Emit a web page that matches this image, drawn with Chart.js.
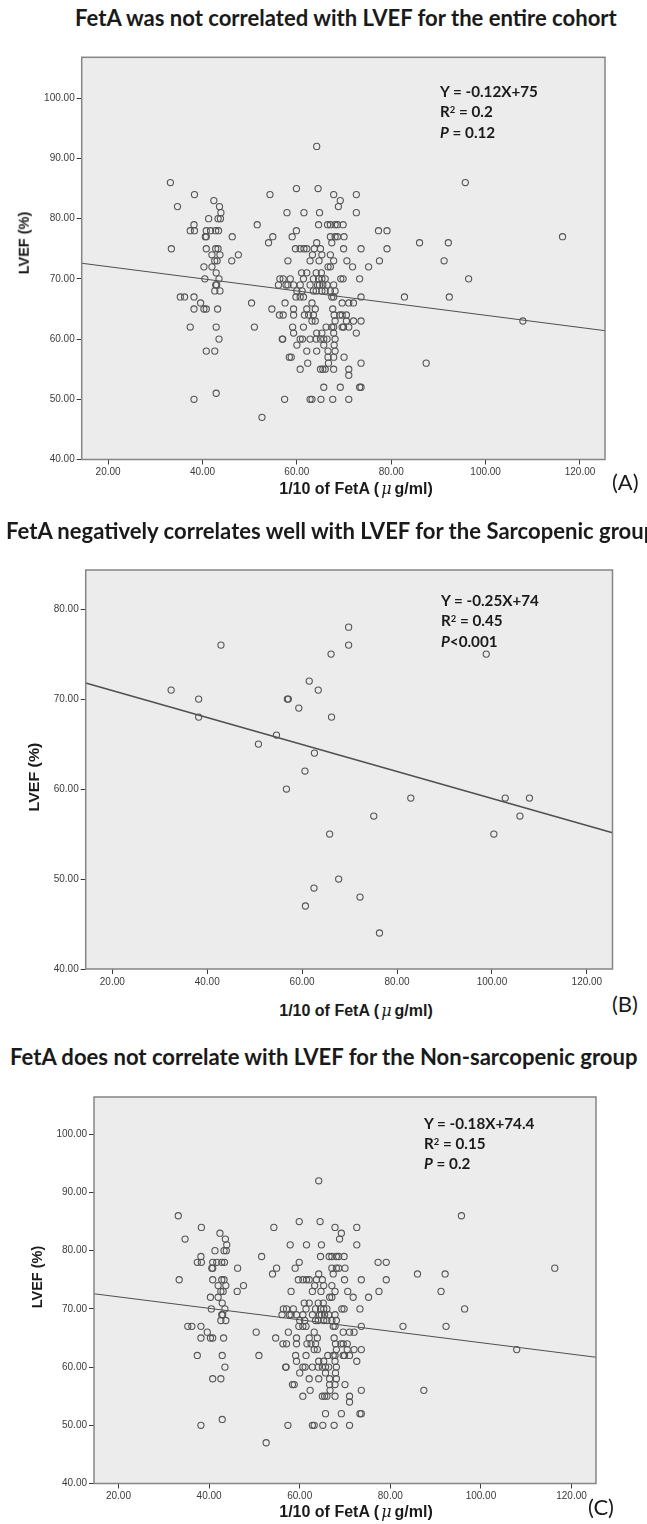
<!DOCTYPE html>
<html>
<head>
<meta charset="utf-8">
<script src="https://cdn.jsdelivr.net/npm/chart.js@4.4.1/dist/chart.umd.min.js"></script>
<style>
  body { margin: 0; background: #fff; }
  #page { position: relative; width: 647px; height: 1524px; overflow: hidden; }
  canvas { position: absolute; left: 0; }
  .t { position: absolute; white-space: nowrap; line-height: 1; color: #1a1a1a; }
  .head { font-family: Lato, "Open Sans", sans-serif; font-weight: bold; font-size: 18px; transform: translateY(-50%); }
  .eq { font-family: Lato, sans-serif; font-weight: bold; font-size: 14.5px; transform: translateY(-50%); }
  .eq sup { font-size: 0.62em; vertical-align: 0.45em; line-height: 0; }
  .axt { font-family: "Liberation Sans", Arial, sans-serif; font-weight: bold; font-size: 16px; transform: translate(-50%, -50%); }
  .mu { font-family: "DejaVu Serif", serif; font-style: italic; font-weight: normal; padding: 0 3px 0 2px; }
  .ayt { font-family: "Liberation Sans", Arial, sans-serif; font-weight: bold; font-size: 14.5px; transform: translate(-50%, -50%) rotate(-90deg); }
  .tag { font-family: Lato, sans-serif; font-size: 22px; transform: translateY(-50%); }
</style>
</head>
<body>
<div id="page">
  <canvas id="chartA" width="647" height="480" style="top:40px"></canvas>
  <canvas id="chartB" width="647" height="440" style="top:550px"></canvas>
  <canvas id="chartC" width="647" height="444" style="top:1080px"></canvas>

  <div class="t head" id="titleA" style="left:75px;top:18px">FetA was not correlated with LVEF for the entire cohort</div>
  <div class="t head" style="left:6px;top:531px">FetA negatively correlates well with LVEF for the Sarcopenic group</div>
  <div class="t head" style="left:10px;top:1057px">FetA does not correlate with LVEF for the Non-sarcopenic group</div>

  <div class="t eq" id="eqA" style="left:440px;top:92px">Y = -0.12X+75</div>
  <div class="t eq" style="left:440px;top:112px">R<sup>2</sup> = 0.2</div>
  <div class="t eq" style="left:440px;top:133px"><i>P</i> = 0.12</div>

  <div class="t eq" style="left:441px;top:601px">Y = -0.25X+74</div>
  <div class="t eq" style="left:441px;top:621px">R<sup>2</sup> = 0.45</div>
  <div class="t eq" style="left:441px;top:642px"><i>P</i>&lt;0.001</div>

  <div class="t eq" style="left:424px;top:1124px">Y = -0.18X+74.4</div>
  <div class="t eq" style="left:424px;top:1144px">R<sup>2</sup> = 0.15</div>
  <div class="t eq" style="left:424px;top:1164px"><i>P</i> = 0.2</div>

  <div class="t axt" style="left:356px;top:489px">1/10 of FetA (<span class="mu">μ</span>g/ml)</div>
  <div class="t axt" style="left:356px;top:1011px">1/10 of FetA (<span class="mu">μ</span>g/ml)</div>
  <div class="t axt" style="left:356px;top:1512px">1/10 of FetA (<span class="mu">μ</span>g/ml)</div>

  <div class="t ayt" style="left:24px;top:243px">LVEF (%)</div>
  <div class="t ayt" style="left:34px;top:777px;transform:translate(-50%,-50%) scale(1,1.1) rotate(-90deg)">LVEF (%)</div>
  <div class="t ayt" style="left:37px;top:1277px">LVEF (%)</div>

  <div class="t tag" style="left:612px;top:482px">(A)</div>
  <div class="t tag" style="left:612px;top:1004px">(B)</div>
  <div class="t tag" style="left:588px;top:1507px">(C)</div>
</div>
<script>
// entire cohort (also plotted for the non-sarcopenic panel, the points are the same)
const cohortFetA = [
  64.2,
  33.2, 95.7,
  59.9, 64.5,
  38.3, 54.3, 67.8, 72.6,
  42.4, 69.2,
  34.7, 43.6, 68.8,
  43.9, 57.9, 61.5, 64.8, 72.6,
  41.3, 43.3, 43.8,
  38.2, 51.6, 64.6, 66.5, 67.1, 68.1, 68.6, 69.8,
  37.4, 38.3, 40.8, 41.7, 42.8, 43.4, 59.9, 77.3, 79.1,
  40.6, 40.8, 46.3, 54.9, 59.0, 67.1, 68.1, 68.6, 70.0, 116.3,
  54.0, 64.2, 67.4, 86.0, 92.1,
  33.4, 40.8, 42.8, 43.3, 59.7, 60.7, 61.5, 62.1, 63.7, 65.0, 69.9, 73.6, 79.1,
  42.0, 43.7, 47.6, 63.3, 65.3, 67.1,
  42.6, 43.1, 46.2, 58.1, 62.8, 64.7, 67.8, 70.6, 77.5, 91.2,
  40.3, 42.0, 66.6, 67.1, 71.8, 75.2,
  42.9, 61.0, 62.1, 64.1, 65.2,
  40.5, 43.5, 56.4, 57.1, 58.6, 61.4, 63.5, 64.6, 65.3, 66.0, 69.3, 69.8, 73.3, 96.4,
  42.8, 43.0, 56.1, 57.7, 58.1, 59.3, 60.7, 62.8, 64.4, 64.8, 65.5, 66.4, 67.8,
  42.6, 43.7, 60.0, 61.1, 63.5, 64.1, 65.3, 66.0, 67.1, 68.1,
  35.3, 36.2, 38.2, 59.8, 60.7, 61.4, 67.4, 67.8, 73.6, 82.8, 92.3,
  39.6, 50.4, 57.5, 63.2, 69.6, 71.0, 72.0,
  38.2, 40.3, 40.8, 43.2, 54.7, 59.3, 62.1, 63.9, 67.6,
  56.3, 57.1, 59.3, 61.6, 62.5, 63.5, 67.9, 69.1, 69.6, 70.5,
  63.2, 63.9, 68.1, 70.5, 72.0, 73.6, 107.9,
  37.4, 42.9, 51.0, 59.1, 61.4, 66.2, 67.4, 67.8, 69.6, 69.9, 71.0,
  59.3, 64.2, 65.3, 67.8, 72.6,
  43.5, 56.9, 57.0, 60.7, 61.2, 62.8, 64.1, 65.0, 65.7, 66.4, 68.1,
  60.0, 65.7, 67.9,
  40.8, 42.6, 62.1, 64.2, 66.6, 68.1,
  58.4, 58.8, 66.6, 67.8, 70.0,
  62.3, 66.7, 73.6, 87.4,
  60.7, 65.0, 65.5, 66.0, 67.8, 71.0,
  71.0,
  65.7, 69.2, 73.3, 73.6,
  42.9,
  38.2, 57.4, 62.8, 63.2, 65.1, 67.6, 71.0,
  52.6
];
const cohortLVEF = [
  92,
  86, 86,
  85, 85,
  84, 84, 84, 84,
  83, 83,
  82, 82, 82,
  81, 81, 81, 81, 81,
  80, 80, 80,
  79, 79, 79, 79, 79, 79, 79, 79,
  78, 78, 78, 78, 78, 78, 78, 78, 78,
  77, 77, 77, 77, 77, 77, 77, 77, 77, 77,
  76, 76, 76, 76, 76,
  75, 75, 75, 75, 75, 75, 75, 75, 75, 75, 75, 75, 75,
  74, 74, 74, 74, 74, 74,
  73, 73, 73, 73, 73, 73, 73, 73, 73, 73,
  72, 72, 72, 72, 72, 72,
  71, 71, 71, 71, 71,
  70, 70, 70, 70, 70, 70, 70, 70, 70, 70, 70, 70, 70, 70,
  69, 69, 69, 69, 69, 69, 69, 69, 69, 69, 69, 69, 69,
  68, 68, 68, 68, 68, 68, 68, 68, 68, 68,
  67, 67, 67, 67, 67, 67, 67, 67, 67, 67, 67,
  66, 66, 66, 66, 66, 66, 66,
  65, 65, 65, 65, 65, 65, 65, 65, 65,
  64, 64, 64, 64, 64, 64, 64, 64, 64, 64,
  63, 63, 63, 63, 63, 63, 63,
  62, 62, 62, 62, 62, 62, 62, 62, 62, 62, 62,
  61, 61, 61, 61, 61,
  60, 60, 60, 60, 60, 60, 60, 60, 60, 60, 60,
  59, 59, 59,
  58, 58, 58, 58, 58, 58,
  57, 57, 57, 57, 57,
  56, 56, 56, 56,
  55, 55, 55, 55, 55, 55,
  54,
  52, 52, 52, 52,
  51,
  50, 50, 50, 50, 50, 50, 50,
  47
];

// sarcopenic group
const sarcFetA = [42.9, 32.4, 38.2, 38.2, 50.8, 54.6, 56.7, 56.9, 57.1, 59.3, 61.5, 63.4, 60.6, 62.6, 66.1, 66.2,
  69.8, 69.8, 65.8, 67.7, 62.5, 60.7, 72.2, 75.1, 76.3, 82.9, 98.8, 100.4, 102.8, 105.9, 107.9];
const sarcLVEF = [76, 71, 70, 68, 65, 66, 60, 70, 70, 69, 72, 71, 62, 64, 75, 68,
  78, 76, 55, 50, 49, 47, 48, 57, 44, 59, 75, 55, 59, 57, 59];

// fitted lines as drawn in the figure
const fitCohort = { slope: -0.101, intercept: 74.05 };
const fitSarc = { slope: -0.15, intercept: 73.95 };
const fitNonSarc = { slope: -0.0984, intercept: 74.03 };

const xTicks = [20, 40, 60, 80, 100, 120];
const yTicksWide = [40, 50, 60, 70, 80, 90, 100];
const yTicksSarc = [40, 50, 60, 70, 80];

// fit the heading / equation fonts to the measured widths
function fitFont(el, width) {
  const fs = parseFloat(getComputedStyle(el).fontSize);
  return fs * width / el.getBoundingClientRect().width;
}
const headSize = fitFont(document.getElementById('titleA'), 542);
document.querySelectorAll('.head').forEach(el => el.style.fontSize = headSize + 'px');
const eqSize = fitFont(document.getElementById('eqA'), 98);
document.querySelectorAll('.eq').forEach(el => el.style.fontSize = eqSize + 'px');

const frame = {
  id: 'frame',
  beforeDraw(chart) {
    const a = chart.chartArea, c = chart.ctx;
    c.save();
    c.fillStyle = '#ececec';
    c.fillRect(a.left, a.top, a.right - a.left, a.bottom - a.top);
    c.restore();
  },
  afterDraw(chart) {
    const a = chart.chartArea, c = chart.ctx;
    c.save();
    c.strokeStyle = '#858585';
    c.lineWidth = 1.5;
    c.strokeRect(a.left, a.top, a.right - a.left, a.bottom - a.top);
    c.restore();
  }
};

function axis(min, max, ticks, fit) {
  return {
    type: 'linear',
    min: min,
    max: max,
    afterBuildTicks: s => { s.ticks = ticks.map(v => ({ value: v })); },
    afterFit: fit,
    border: { display: false },
    grid: { drawOnChartArea: false, drawTicks: true, tickLength: 5, color: '#3a3a3a', lineWidth: 1 },
    ticks: {
      callback: v => v.toFixed(2),
      color: '#3a3a3a',
      font: { family: 'Liberation Sans', size: 10 },
      padding: 2,
      maxRotation: 0,
      autoSkip: false
    }
  };
}

function drawPanel(id, o) {
  const canvas = document.getElementById(id);
  const top = parseFloat(canvas.style.top);
  const pts = o.xs.map((x, i) => ({ x: x, y: o.ys[i] }));
  const line = [o.xMin, o.xMax].map(x => ({ x: x, y: o.fit.intercept + o.fit.slope * x }));
  return new Chart(canvas.getContext('2d'), {
    type: 'scatter',
    data: {
      datasets: [{
        data: pts,
        pointRadius: 3.1,
        pointHoverRadius: 3.1,
        borderWidth: 1.1,
        borderColor: '#555555',
        backgroundColor: 'rgba(0,0,0,0)'
      }, {
        data: line,
        showLine: true,
        pointRadius: 0,
        borderWidth: o.lineWidth,
        borderColor: '#4f4f4f'
      }]
    },
    options: {
      responsive: false,
      animation: false,
      events: [],
      layout: { padding: { top: o.area.top - top, right: 647 - o.area.right, left: 0, bottom: 0 } },
      plugins: { legend: { display: false }, tooltip: { enabled: false } },
      scales: {
        x: axis(o.xMin, o.xMax, xTicks, s => { s.height = top + canvas.height - o.area.bottom; }),
        y: axis(o.yMin, o.yMax, o.yTicks, s => { s.width = o.area.left; })
      }
    },
    plugins: [frame]
  });
}

drawPanel('chartA', {
  xs: cohortFetA, ys: cohortLVEF, fit: fitCohort, lineWidth: 1,
  xMin: 14.4, xMax: 125.3, yMin: 40, yMax: 106.8, yTicks: yTicksWide,
  area: { left: 81.7, top: 57.3, right: 605, bottom: 459.5 }
});
drawPanel('chartB', {
  xs: sarcFetA, ys: sarcLVEF, fit: fitSarc, lineWidth: 1.4,
  xMin: 14.4, xMax: 125.4, yMin: 40, yMax: 84.35, yTicks: yTicksSarc,
  area: { left: 85.7, top: 570, right: 612.5, bottom: 969 }
});
drawPanel('chartC', {
  xs: cohortFetA, ys: cohortLVEF, fit: fitNonSarc, lineWidth: 1,
  xMin: 14.6, xMax: 125.4, yMin: 40, yMax: 106.4, yTicks: yTicksWide,
  area: { left: 94, top: 1097, right: 596, bottom: 1483.5 }
});
</script>
</body>
</html>
